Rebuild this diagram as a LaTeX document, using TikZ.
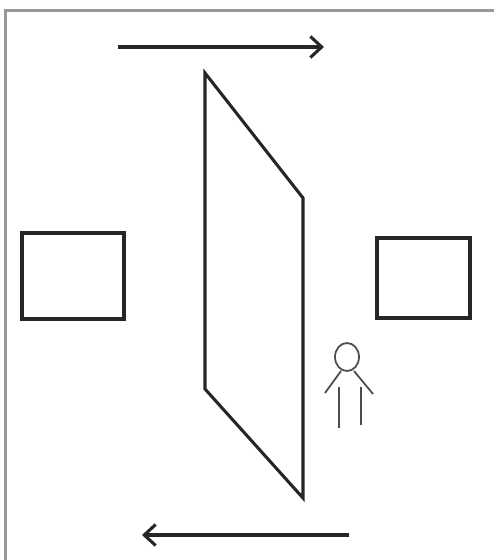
\documentclass[tikz,border=0pt]{standalone}
\usetikzlibrary{arrows.meta}
\tikzset{
    sketchline/.style={black!85,line width=1.75pt,line join=miter},
    flowarrow/.style={sketchline,-{Straight Barb[length=6.5pt,width=12pt,line width=1.75pt]}},
    personline/.style={black!70,line width=1pt},
}
\begin{document}
\begin{tikzpicture}[x=0.02cm,y=-0.02cm]
    \useasboundingbox (0,0) rectangle (494,560);

    % Frame
    \draw[gray!80,line width=1.3pt] (5.5,560) -- (5.5,10.5) -- (494,10.5);

    % Arrows
    \coordinate (topstart) at (118,47);
    \coordinate (topend) at (324,47);
    \coordinate (bottomstart) at (349,535);
    \coordinate (bottomend) at (142,535);
    \draw[flowarrow] (topstart) -- (topend);
    \draw[flowarrow] (bottomstart) -- (bottomend);

    % Wall
    \draw[sketchline] (205,73) -- (303,198) -- (303,498) -- (205,389) -- cycle;

    % Boxes
    \draw[sketchline] (22,233) rectangle (124,319);
    \draw[sketchline] (377,238) rectangle (470,318);

    % Person
    \draw[personline] (347,357) ellipse (12 and 14);
    \draw[personline] (341,371) -- (325,393);
    \draw[personline] (354,371) -- (373,394);
    \draw[personline] (339,387) -- (339,428);
    \draw[personline] (361,387) -- (361,425);
\end{tikzpicture}
\end{document}
